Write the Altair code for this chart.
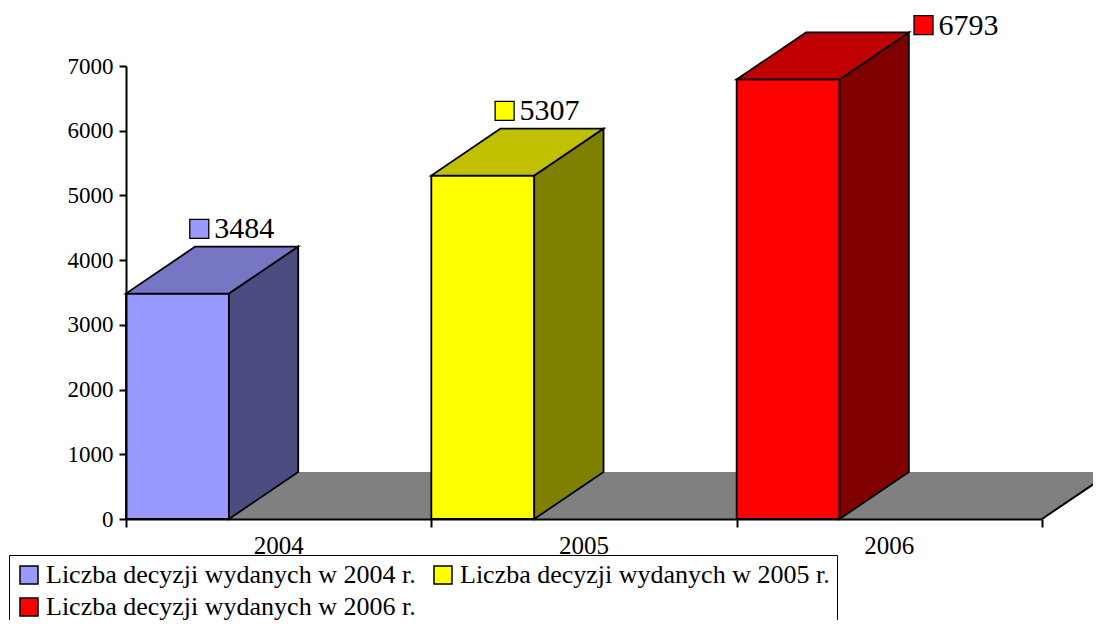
import altair as alt
import pandas as pd

# ---- data ----
years = ["2004", "2005", "2006"]
values = [3484, 5307, 6793]
series_names = [
    "Liczba decyzji wydanych w 2004 r.",
    "Liczba decyzji wydanych w 2005 r.",
    "Liczba decyzji wydanych w 2006 r.",
]
front_colors = ["#9999FF", "#FFFF00", "#FF0000"]
top_colors = ["#7676C4", "#C0C000", "#C00000"]
side_colors = ["#4C4C80", "#808000", "#800000"]

# ---- 3-D geometry (in data units) ----
Y_MAX = 7000
BAR_W = 0.337      # front face width, in category bands
DX = 0.227         # depth offset along x, in category bands
DY = 726           # depth offset along y, in value units
N = len(years)

front = pd.DataFrame({
    "x0": [i for i in range(N)],
    "x1": [i + BAR_W for i in range(N)],
    "y0": [0] * N,
    "y1": values,
    "series": series_names,
})

side_rows, top_rows = [], []
for i, (v, sc, tc) in enumerate(zip(values, side_colors, top_colors)):
    side_rows.append({"id": i, "x": i + BAR_W, "lo": 0, "hi": v, "c": sc})
    side_rows.append({"id": i, "x": i + BAR_W + DX, "lo": DY, "hi": v + DY, "c": sc})
    top_rows.append({"id": i, "y": v, "xa": i, "xb": i + BAR_W, "c": tc})
    top_rows.append({"id": i, "y": v + DY, "xa": i + DX, "xb": i + BAR_W + DX, "c": tc})
side = pd.DataFrame(side_rows)
top = pd.DataFrame(top_rows)

floor = pd.DataFrame({"y": [0, DY], "xa": [0, DX], "xb": [N, N + DX]})
floor_edge = pd.DataFrame({"x": [N], "y": [0], "x2": [N + DX], "y2": [DY]})

# data labels: above the bar, or beside it when there is no room above
CANVAS_TOP_VALUE = 8000
lab_rows = []
for i, (v, fc) in enumerate(zip(values, front_colors)):
    if v + 1000 + 300 < CANVAS_TOP_VALUE:
        lx, ly = i + 0.24, v + 1000
    else:
        lx, ly = i + BAR_W + DX + 0.048, v + 840
    lab_rows.append({"lx": lx, "ly": ly, "txt": str(v), "c": fc})
labels = pd.DataFrame(lab_rows)

cats = pd.DataFrame({"x": [i + 0.5 for i in range(N)], "y": [0] * N, "year": years})

FONT = "Liberation Serif"
xs = alt.Scale(domain=[0, N], nice=False, zero=False)
ys = alt.Scale(domain=[0, Y_MAX], nice=False)

x_axis = alt.Axis(
    values=list(range(N + 1)), labels=False, title=None, grid=False,
    tickSize=8, tickColor="black", tickWidth=2, domainColor="black",
    domainWidth=2, zindex=1)
y_axis = alt.Axis(
    values=list(range(0, Y_MAX + 1, 1000)), format="d", title=None, grid=False,
    tickSize=7, tickColor="black", tickWidth=2, domainColor="black",
    domainWidth=2, labelFont=FONT, labelFontSize=23, labelColor="black",
    labelPadding=6, zindex=1)


def X(field):
    return alt.X(field, scale=xs, axis=x_axis)


def Y(field):
    return alt.Y(field, scale=ys, axis=y_axis)


floor_layer = alt.Chart(floor).mark_area(orient="horizontal", color="#808080").encode(
    y=Y("y:Q"), x=X("xa:Q"), x2="xb:Q",
)
floor_edge_layer = alt.Chart(floor_edge).mark_rule(color="black", strokeWidth=2).encode(
    x=X("x:Q"), y=Y("y:Q"), x2="x2:Q", y2="y2:Q"
)

front_layer = alt.Chart(front).mark_rect(stroke="black", strokeWidth=1.8).encode(
    x=X("x0:Q"),
    x2="x1:Q",
    y=Y("y0:Q"),
    y2="y1:Q",
    color=alt.Color("series:N", scale=alt.Scale(domain=series_names, range=front_colors),
                    legend=alt.Legend(
                        orient="none", legendX=-117, legendY=489, direction="horizontal",
                        columns=2, title=None, symbolType="square", symbolSize=324,
                        symbolStrokeColor="black", symbolStrokeWidth=1.5,
                        symbolOpacity=1, labelFont=FONT, labelFontSize=26,
                        labelColor="black", labelLimit=700, labelOffset=4,
                        strokeColor="black", fillColor="white", padding=7,
                        rowPadding=6, columnPadding=14)),
)

side_layer = alt.Chart(side).mark_area(stroke="black", strokeWidth=1.8).encode(
    x=X("x:Q"), y=Y("lo:Q"), y2="hi:Q",
    detail="id:N",
    fill=alt.Fill("c:N", scale=None),
)

top_layer = alt.Chart(top).mark_area(orient="horizontal", stroke="black", strokeWidth=1.8).encode(
    y=Y("y:Q"), x=X("xa:Q"), x2="xb:Q",
    detail="id:N",
    fill=alt.Fill("c:N", scale=None),
)

label_sq = alt.Chart(labels).mark_square(size=361, stroke="black", strokeWidth=1.3, opacity=1).encode(
    x=X("lx:Q"), y=Y("ly:Q"),
    fill=alt.Fill("c:N", scale=None),
)
label_txt = alt.Chart(labels).mark_text(
    align="left", baseline="alphabetic", dx=15, dy=9.5, font=FONT, fontSize=30, color="black"
).encode(x=X("lx:Q"), y=Y("ly:Q"), text="txt:N")

cat_txt = alt.Chart(cats).mark_text(
    baseline="top", dy=15, font=FONT, fontSize=25, color="black"
).encode(x=X("x:Q"), y=Y("y:Q"), text="year:N")

chart = alt.layer(
    floor_layer, floor_edge_layer, cat_txt, front_layer, side_layer, top_layer, label_sq, label_txt
).properties(
    width=916, height=453,
    background="white",
    autosize=alt.AutoSizeParams(type="none"),
    padding={"left": 118, "top": 58, "right": 51, "bottom": 101},
).configure_view(strokeWidth=0, stroke="transparent")

chart.save("out.html", embed_options={"renderer": "svg", "actions": False})
